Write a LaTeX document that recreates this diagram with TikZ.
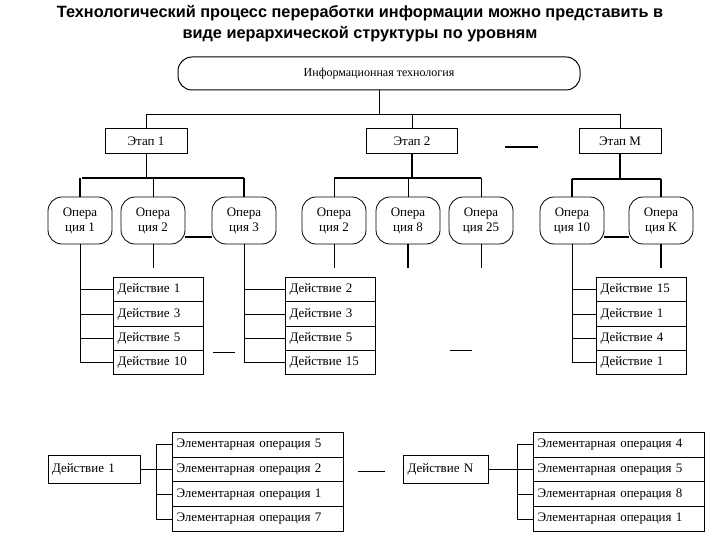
\documentclass[tikz,border=0pt]{standalone}
\usepackage{fontspec}
\setmainfont{Liberation Serif}
\newfontfamily\ttl{Liberation Sans}
\begin{document}
\begin{tikzpicture}[x=1pt,y=-1pt,
 box/.style={draw,line width=1pt,inner sep=0pt,font=\fontsize{13}{13}\selectfont},
 op/.style={draw,line width=0.8pt,rounded corners=14pt,inner sep=0pt,minimum width=64pt,minimum height=47pt,align=center,font=\fontsize{13}{15}\selectfont},
 act/.style={box,minimum width=90pt,minimum height=24.3pt,anchor=north west,text width=82pt,align=left},
 el/.style={box,minimum width=171pt,minimum height=24.7pt,anchor=north west,text width=163pt,align=left},
 ln/.style={line width=0.8pt},
 th/.style={line width=1.4pt}]
\useasboundingbox (0,0) rectangle (720,540);
\node[font=\ttl\bfseries\fontsize{16.3}{21}\selectfont,align=center] (title) at (360,24) {Технологический процесс переработки информации можно представить в\\виде иерархической структуры по уровням};
\node[draw,line width=1pt,rounded corners=14pt,minimum width=402pt,minimum height=33pt,font=\fontsize{12}{12}\selectfont] (it) at (379,73.5) {Информационная технология};
\node[box,minimum width=82pt,minimum height=25pt] (e1) at (146,141.5) {Этап 1};
\node[box,minimum width=91pt,minimum height=25pt] (e2) at (412,141.5) {Этап 2};
\node[box,minimum width=82pt,minimum height=25pt] (em) at (620,141.5) {Этап М};
\coordinate (d1a) at (505,147); \coordinate (d1b) at (538,147);
\draw[th] (d1a) -- (d1b);
\draw[ln] (it.south) -- (379,114);
\draw[ln] (146,114) -- (620,114);
\draw[ln] (e1.north) -- (146,114); \draw[ln] (e2.north) -- (412,114); \draw[ln] (em.north) -- (620,114);
% operations
\node[op] (o1) at (80,220.5) {Опера\\ция 1};
\node[op] (o2) at (153,220.5) {Опера\\ция 2};
\node[op] (o3) at (244,220.5) {Опера\\ция 3};
\node[op] (o4) at (334,220.5) {Опера\\ция 2};
\node[op] (o5) at (408,220.5) {Опера\\ция 8};
\node[op] (o6) at (481,220.5) {Опера\\ция 25};
\node[op] (o7) at (572,220.5) {Опера\\ция 10};
\node[op] (o8) at (661,220.5) {Опера\\ция К};
\draw[th] (82,178) -- (244,178); \draw[ln] (e1.south) -- (146,178);
\draw[th] (o1.north) -- (80,178); \draw[ln] (o2.north) -- (153,178); \draw[th] (o3.north) -- (244,178);
\draw[th] (334,178) -- (481,178); \draw[th] (e2.south) -- (412,178);
\draw[ln] (o4.north) -- (334,178); \draw[ln] (o5.north) -- (408,178); \draw[ln] (o6.north) -- (481,178);
\draw[th] (572,179) -- (661,179); \draw[th] (em.south) -- (620,179);
\draw[th] (o7.north) -- (572,179); \draw[th] (o8.north) -- (661,179);
\draw[th] (o2.east |- 0,237) -- (o3.west |- 0,237);
\draw[th] (o7.east |- 0,237) -- (o8.west |- 0,237);
% action stacks
\foreach \n/\t [count=\i from 0] in {1/Действие 1,2/Действие 3,3/Действие 5,4/Действие 10}
  \node[act] (a\n) at (113,277+24.3*\i) {\t};
\foreach \n/\t [count=\i from 0] in {1/Действие 2,2/Действие 3,3/Действие 5,4/Действие 15}
  \node[act] (b\n) at (285,277+24.3*\i) {\t};
\foreach \n/\t [count=\i from 0] in {1/Действие 15,2/Действие 1,3/Действие 4,4/Действие 1}
  \node[act] (c\n) at (596,277+24.3*\i) {\t};
\draw[ln] (o1.south) -- (o1.south |- a4.west) -- (a4.west);
\foreach \n in {1,2,3} \draw[ln] (o1.south |- a\n.west) -- (a\n.west);
\draw[ln] (o3.south) -- (o3.south |- b4.west) -- (b4.west);
\foreach \n in {1,2,3} \draw[ln] (o3.south |- b\n.west) -- (b\n.west);
\draw[ln] (o7.south) -- (o7.south |- c4.west) -- (c4.west);
\foreach \n in {1,2,3} \draw[ln] (o7.south |- c\n.west) -- (c\n.west);
\coordinate (t2) at (153,268); \draw[ln] (o2.south) -- (t2);
\coordinate (t4) at (334,268); \draw[ln] (o4.south) -- (t4);
\coordinate (t5) at (408,268); \draw[th] (o5.south) -- (t5);
\coordinate (t6) at (481,268); \draw[ln] (o6.south) -- (t6);
\coordinate (t8) at (661,268); \draw[th] (o8.south) -- (t8);
\draw[ln] (213,352) -- (235,352);
\draw[ln] (450,350) -- (472,350);
% bottom
\node[box,minimum width=92pt,minimum height=28pt,text width=84pt,align=left] (d1) at (94,469) {Действие 1};
\node[box,minimum width=85pt,minimum height=28pt,text width=77pt,align=left] (dn) at (446,469) {Действие N};
\foreach \n/\t [count=\i from 0] in {1/Элементарная операция 5,2/Элементарная операция 2,3/Элементарная операция 1,4/Элементарная операция 7}
  \node[el] (f\n) at (172,432+24.7*\i) {\t};
\foreach \n/\t [count=\i from 0] in {1/Элементарная операция 4,2/Элементарная операция 5,3/Элементарная операция 8,4/Элементарная операция 1}
  \node[el] (g\n) at (533,432+24.7*\i) {\t};
\draw[ln] (d1.east) -- (156,469);
\draw[ln] (f1.west) -- (156,0 |- f1.west) -- (156,0 |- f4.west) -- (f4.west);
\foreach \n in {2,3} \draw[ln] (156,0 |- f\n.west) -- (f\n.west);
\draw[ln] (dn.east) -- (517,469);
\draw[ln] (g1.west) -- (517,0 |- g1.west) -- (517,0 |- g4.west) -- (g4.west);
\foreach \n in {2,3} \draw[ln] (517,0 |- g\n.west) -- (g\n.west);
\draw[ln] (358,471) -- (385,471);
\end{tikzpicture}
\end{document}
